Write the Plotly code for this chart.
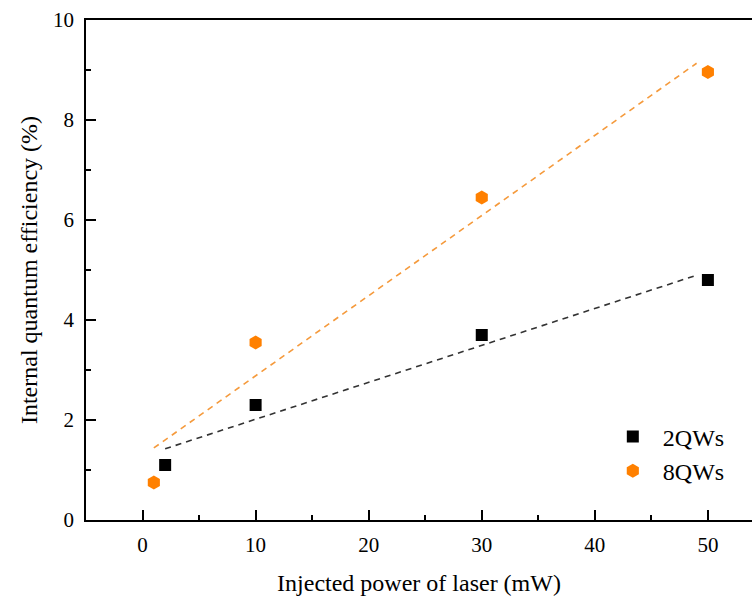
import numpy as np
import plotly.graph_objects as go

# Measured internal quantum efficiency vs injected laser power
power_2qw = [2, 10, 30, 50]
iqe_2qw = [1.1, 2.3, 3.7, 4.8]
power_8qw = [1, 10, 30, 50]
iqe_8qw = [0.75, 3.55, 6.45, 8.96]
fit_end = 49

FONT = "Liberation Serif, Times New Roman, serif"


def linear_fit(x, y, x_end):
    slope, intercept = np.polyfit(x, y, 1)
    xs = np.array([x[0], x_end], dtype=float)
    return xs, slope * xs + intercept


fig = go.Figure()

fx, fy = linear_fit(power_8qw, iqe_8qw, fit_end)
fig.add_trace(go.Scatter(x=fx, y=fy, mode="lines", showlegend=False,
                         line=dict(color="#F59A3C", width=1.6, dash="6px,5px")))
fx, fy = linear_fit(power_2qw, iqe_2qw, fit_end)
fig.add_trace(go.Scatter(x=fx, y=fy, mode="lines", showlegend=False,
                         line=dict(color="#333333", width=1.6, dash="6px,5px")))

fig.add_trace(go.Scatter(x=power_2qw, y=iqe_2qw, mode="markers", name="2QWs",
                         marker=dict(symbol="square", size=12, color="black")))
fig.add_trace(go.Scatter(x=power_8qw, y=iqe_8qw, mode="markers", name="8QWs",
                         marker=dict(symbol="hexagon", size=14, color="#FF8000")))

fig.update_layout(
    width=752, height=601,
    margin=dict(l=86, r=0, t=20, b=81),
    paper_bgcolor="white", plot_bgcolor="white",
    font=dict(family=FONT, size=21, color="black"),
    showlegend=True,
    legend=dict(x=0.776, y=0.132, xanchor="left", yanchor="middle",
                bgcolor="rgba(0,0,0,0)", font=dict(size=24),
                itemwidth=50, tracegroupgap=0),
    xaxis=dict(
        range=[-5, 53.9], showgrid=False, zeroline=False,
        showline=True, linecolor="black", linewidth=1.5, mirror=True,
        ticks="inside", ticklen=10, tickwidth=1.5, tickcolor="black",
        tickmode="array", tickvals=[0, 10, 20, 30, 40, 50],
        tickfont=dict(size=21), ticklabelstandoff=5,
        minor=dict(tickvals=[5, 15, 25, 35, 45], ticks="inside", ticklen=5,
                   tickwidth=1.5, tickcolor="black"),
        title=dict(text="Injected power of laser (mW)", standoff=18,
                   font=dict(size=24)),
    ),
    yaxis=dict(
        range=[0, 10], showgrid=False, zeroline=False,
        showline=True, linecolor="black", linewidth=1.5,
        ticks="inside", ticklen=10, tickwidth=1.5, tickcolor="black",
        tickmode="array", tickvals=[0, 2, 4, 6, 8, 10],
        tickfont=dict(size=21), ticklabelstandoff=6,
        minor=dict(tickvals=[1, 3, 5, 7, 9], ticks="inside", ticklen=5,
                   tickwidth=1.5, tickcolor="black"),
        title=dict(text="Internal quantum efficiency (%)", standoff=9,
                   font=dict(size=24)),
    ),
)

fig.write_html("out.html")
